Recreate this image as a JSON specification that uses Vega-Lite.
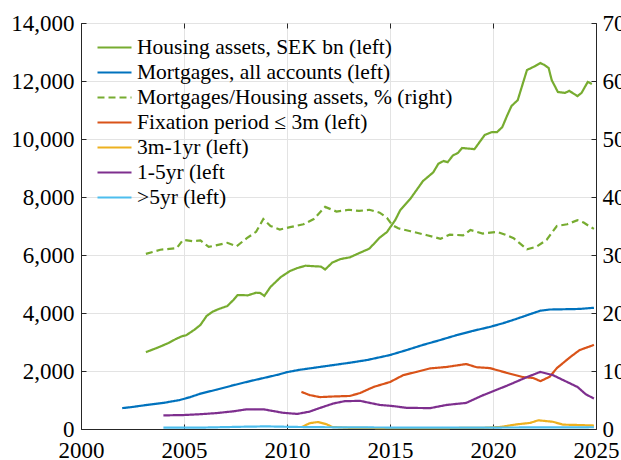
{
  "$schema": "https://vega.github.io/schema/vega-lite/v6.json",
  "width": 515,
  "height": 406,
  "autosize": {"type": "none"},
  "padding": {"left": 81, "top": 23, "right": 25, "bottom": 31},
  "background": "white",
  "config": {
    "view": {"stroke": "#262626", "strokeWidth": 1},
    "font": "Liberation Serif",
    "axis": {
      "labelFont": "Liberation Serif",
      "labelFontSize": 23,
      "labelColor": "#000000",
      "domainColor": "#262626",
      "tickColor": "#262626",
      "tickSize": -5,
      "gridColor": "#e3e3e3",
      "gridWidth": 1,
      "title": null
    },
    "legend": {
      "labelFont": "Liberation Serif",
      "labelFontSize": 21.5,
      "labelColor": "#000000",
      "labelLimit": 500
    }
  },
  "datasets": {
    "d": [
      {"s": "H", "t": 2003.15, "v": 2650}, {"s": "H", "t": 2003.7, "v": 2800}, {"s": "H", "t": 2004.2, "v": 2950},
      {"s": "H", "t": 2004.6, "v": 3100}, {"s": "H", "t": 2004.9, "v": 3200}, {"s": "H", "t": 2005.1, "v": 3230},
      {"s": "H", "t": 2005.5, "v": 3420}, {"s": "H", "t": 2005.8, "v": 3590}, {"s": "H", "t": 2006.1, "v": 3900},
      {"s": "H", "t": 2006.4, "v": 4050}, {"s": "H", "t": 2006.7, "v": 4140}, {"s": "H", "t": 2007.1, "v": 4240},
      {"s": "H", "t": 2007.4, "v": 4450}, {"s": "H", "t": 2007.6, "v": 4620}, {"s": "H", "t": 2008.1, "v": 4610},
      {"s": "H", "t": 2008.5, "v": 4700}, {"s": "H", "t": 2008.7, "v": 4690}, {"s": "H", "t": 2008.9, "v": 4590},
      {"s": "H", "t": 2009.2, "v": 4900}, {"s": "H", "t": 2009.7, "v": 5240}, {"s": "H", "t": 2010.15, "v": 5450},
      {"s": "H", "t": 2010.5, "v": 5550}, {"s": "H", "t": 2010.9, "v": 5630}, {"s": "H", "t": 2011.4, "v": 5610},
      {"s": "H", "t": 2011.65, "v": 5600}, {"s": "H", "t": 2011.85, "v": 5500}, {"s": "H", "t": 2012.2, "v": 5740},
      {"s": "H", "t": 2012.6, "v": 5860}, {"s": "H", "t": 2013.05, "v": 5920}, {"s": "H", "t": 2013.55, "v": 6080},
      {"s": "H", "t": 2014.0, "v": 6220}, {"s": "H", "t": 2014.5, "v": 6600}, {"s": "H", "t": 2014.85, "v": 6790},
      {"s": "H", "t": 2015.25, "v": 7200}, {"s": "H", "t": 2015.5, "v": 7550}, {"s": "H", "t": 2016.0, "v": 7950},
      {"s": "H", "t": 2016.2, "v": 8150}, {"s": "H", "t": 2016.6, "v": 8550}, {"s": "H", "t": 2017.1, "v": 8850},
      {"s": "H", "t": 2017.35, "v": 9150}, {"s": "H", "t": 2017.6, "v": 9240}, {"s": "H", "t": 2017.8, "v": 9200},
      {"s": "H", "t": 2018.05, "v": 9430}, {"s": "H", "t": 2018.3, "v": 9520}, {"s": "H", "t": 2018.5, "v": 9690},
      {"s": "H", "t": 2019.1, "v": 9650}, {"s": "H", "t": 2019.6, "v": 10140}, {"s": "H", "t": 2019.95, "v": 10240},
      {"s": "H", "t": 2020.2, "v": 10240}, {"s": "H", "t": 2020.45, "v": 10410}, {"s": "H", "t": 2020.7, "v": 10830},
      {"s": "H", "t": 2020.9, "v": 11140}, {"s": "H", "t": 2021.2, "v": 11340}, {"s": "H", "t": 2021.65, "v": 12380},
      {"s": "H", "t": 2021.95, "v": 12480}, {"s": "H", "t": 2022.3, "v": 12620}, {"s": "H", "t": 2022.5, "v": 12550},
      {"s": "H", "t": 2022.7, "v": 12450}, {"s": "H", "t": 2022.85, "v": 12030}, {"s": "H", "t": 2023.15, "v": 11620},
      {"s": "H", "t": 2023.5, "v": 11590}, {"s": "H", "t": 2023.7, "v": 11660}, {"s": "H", "t": 2024.1, "v": 11480},
      {"s": "H", "t": 2024.3, "v": 11590}, {"s": "H", "t": 2024.6, "v": 11970}, {"s": "H", "t": 2024.8, "v": 11900},

      {"s": "M", "t": 2002.0, "v": 720}, {"s": "M", "t": 2002.5, "v": 760}, {"s": "M", "t": 2003.2, "v": 830},
      {"s": "M", "t": 2004.0, "v": 900}, {"s": "M", "t": 2004.8, "v": 1000}, {"s": "M", "t": 2005.3, "v": 1100},
      {"s": "M", "t": 2005.8, "v": 1220}, {"s": "M", "t": 2006.6, "v": 1360}, {"s": "M", "t": 2007.4, "v": 1510},
      {"s": "M", "t": 2008.2, "v": 1650}, {"s": "M", "t": 2009.0, "v": 1780}, {"s": "M", "t": 2009.6, "v": 1880},
      {"s": "M", "t": 2010.0, "v": 1960}, {"s": "M", "t": 2010.6, "v": 2040}, {"s": "M", "t": 2011.2, "v": 2100},
      {"s": "M", "t": 2012.2, "v": 2200}, {"s": "M", "t": 2013.1, "v": 2290}, {"s": "M", "t": 2013.9, "v": 2380},
      {"s": "M", "t": 2015.0, "v": 2550}, {"s": "M", "t": 2015.8, "v": 2720}, {"s": "M", "t": 2016.6, "v": 2900},
      {"s": "M", "t": 2017.4, "v": 3060}, {"s": "M", "t": 2018.25, "v": 3240}, {"s": "M", "t": 2019.0, "v": 3380},
      {"s": "M", "t": 2019.85, "v": 3520}, {"s": "M", "t": 2020.5, "v": 3650}, {"s": "M", "t": 2021.15, "v": 3800},
      {"s": "M", "t": 2021.8, "v": 3960}, {"s": "M", "t": 2022.3, "v": 4080}, {"s": "M", "t": 2022.75, "v": 4120},
      {"s": "M", "t": 2023.5, "v": 4130}, {"s": "M", "t": 2024.2, "v": 4140}, {"s": "M", "t": 2024.9, "v": 4180},

      {"s": "R", "t": 2003.15, "v": 30.2}, {"s": "R", "t": 2003.85, "v": 30.9}, {"s": "R", "t": 2004.65, "v": 31.2},
      {"s": "R", "t": 2004.95, "v": 32.6}, {"s": "R", "t": 2005.4, "v": 32.4}, {"s": "R", "t": 2005.8, "v": 32.5},
      {"s": "R", "t": 2006.2, "v": 31.4}, {"s": "R", "t": 2006.6, "v": 31.7}, {"s": "R", "t": 2007.1, "v": 32.1},
      {"s": "R", "t": 2007.55, "v": 31.5}, {"s": "R", "t": 2008.05, "v": 32.9}, {"s": "R", "t": 2008.5, "v": 34.0},
      {"s": "R", "t": 2008.85, "v": 36.2}, {"s": "R", "t": 2009.2, "v": 35.0}, {"s": "R", "t": 2009.65, "v": 34.4},
      {"s": "R", "t": 2010.15, "v": 34.8}, {"s": "R", "t": 2010.8, "v": 35.3}, {"s": "R", "t": 2011.3, "v": 36.2},
      {"s": "R", "t": 2011.85, "v": 38.3}, {"s": "R", "t": 2012.4, "v": 37.5}, {"s": "R", "t": 2013.0, "v": 37.8},
      {"s": "R", "t": 2013.5, "v": 37.6}, {"s": "R", "t": 2014.0, "v": 37.8}, {"s": "R", "t": 2014.5, "v": 37.3},
      {"s": "R", "t": 2014.85, "v": 36.4}, {"s": "R", "t": 2015.1, "v": 35.2}, {"s": "R", "t": 2015.4, "v": 34.6},
      {"s": "R", "t": 2016.0, "v": 34.1}, {"s": "R", "t": 2016.8, "v": 33.4}, {"s": "R", "t": 2017.45, "v": 32.8},
      {"s": "R", "t": 2017.9, "v": 33.5}, {"s": "R", "t": 2018.55, "v": 33.4}, {"s": "R", "t": 2018.9, "v": 34.3},
      {"s": "R", "t": 2019.5, "v": 33.7}, {"s": "R", "t": 2020.2, "v": 34.0}, {"s": "R", "t": 2020.6, "v": 33.5},
      {"s": "R", "t": 2021.0, "v": 32.9}, {"s": "R", "t": 2021.65, "v": 31.0}, {"s": "R", "t": 2022.1, "v": 31.4},
      {"s": "R", "t": 2022.6, "v": 32.6}, {"s": "R", "t": 2023.1, "v": 35.0}, {"s": "R", "t": 2023.6, "v": 35.3},
      {"s": "R", "t": 2024.1, "v": 36.0}, {"s": "R", "t": 2024.4, "v": 35.6}, {"s": "R", "t": 2024.7, "v": 34.9},
      {"s": "R", "t": 2024.9, "v": 34.5},

      {"s": "F", "t": 2010.7, "v": 1280}, {"s": "F", "t": 2011.1, "v": 1170}, {"s": "F", "t": 2011.6, "v": 1100},
      {"s": "F", "t": 2012.2, "v": 1120}, {"s": "F", "t": 2013.05, "v": 1140}, {"s": "F", "t": 2013.55, "v": 1240},
      {"s": "F", "t": 2014.2, "v": 1450}, {"s": "F", "t": 2015.0, "v": 1620}, {"s": "F", "t": 2015.65, "v": 1860},
      {"s": "F", "t": 2016.3, "v": 1970}, {"s": "F", "t": 2016.95, "v": 2090}, {"s": "F", "t": 2017.75, "v": 2140},
      {"s": "F", "t": 2018.7, "v": 2240}, {"s": "F", "t": 2019.2, "v": 2130}, {"s": "F", "t": 2019.85, "v": 2100},
      {"s": "F", "t": 2020.7, "v": 1930}, {"s": "F", "t": 2021.45, "v": 1790}, {"s": "F", "t": 2021.95, "v": 1760},
      {"s": "F", "t": 2022.3, "v": 1650}, {"s": "F", "t": 2022.75, "v": 1800}, {"s": "F", "t": 2023.1, "v": 2100},
      {"s": "F", "t": 2023.75, "v": 2480}, {"s": "F", "t": 2024.2, "v": 2720}, {"s": "F", "t": 2024.9, "v": 2900},

      {"s": "Y", "t": 2010.7, "v": 60}, {"s": "Y", "t": 2011.1, "v": 200}, {"s": "Y", "t": 2011.5, "v": 240},
      {"s": "Y", "t": 2011.9, "v": 170}, {"s": "Y", "t": 2012.2, "v": 70}, {"s": "Y", "t": 2013.0, "v": 40},
      {"s": "Y", "t": 2015.0, "v": 30}, {"s": "Y", "t": 2017.0, "v": 30}, {"s": "Y", "t": 2019.5, "v": 40},
      {"s": "Y", "t": 2020.35, "v": 70}, {"s": "Y", "t": 2021.15, "v": 160}, {"s": "Y", "t": 2021.8, "v": 210},
      {"s": "Y", "t": 2022.2, "v": 300}, {"s": "Y", "t": 2022.9, "v": 250}, {"s": "Y", "t": 2023.4, "v": 150},
      {"s": "Y", "t": 2024.0, "v": 140}, {"s": "Y", "t": 2024.9, "v": 120},

      {"s": "P", "t": 2004.0, "v": 470}, {"s": "P", "t": 2004.95, "v": 480}, {"s": "P", "t": 2005.8, "v": 510},
      {"s": "P", "t": 2006.6, "v": 550}, {"s": "P", "t": 2007.4, "v": 610}, {"s": "P", "t": 2008.05, "v": 680},
      {"s": "P", "t": 2008.85, "v": 680}, {"s": "P", "t": 2009.8, "v": 560}, {"s": "P", "t": 2010.5, "v": 520},
      {"s": "P", "t": 2011.1, "v": 600}, {"s": "P", "t": 2011.45, "v": 690}, {"s": "P", "t": 2012.25, "v": 880},
      {"s": "P", "t": 2012.8, "v": 960}, {"s": "P", "t": 2013.55, "v": 970}, {"s": "P", "t": 2014.5, "v": 830},
      {"s": "P", "t": 2015.15, "v": 790}, {"s": "P", "t": 2015.8, "v": 730}, {"s": "P", "t": 2016.95, "v": 720},
      {"s": "P", "t": 2017.75, "v": 830}, {"s": "P", "t": 2018.7, "v": 900}, {"s": "P", "t": 2019.5, "v": 1160},
      {"s": "P", "t": 2020.7, "v": 1500}, {"s": "P", "t": 2021.65, "v": 1790}, {"s": "P", "t": 2022.3, "v": 1970},
      {"s": "P", "t": 2022.9, "v": 1860}, {"s": "P", "t": 2023.6, "v": 1620}, {"s": "P", "t": 2024.1, "v": 1450},
      {"s": "P", "t": 2024.5, "v": 1200}, {"s": "P", "t": 2024.9, "v": 1050},

      {"s": "B", "t": 2004.0, "v": 50}, {"s": "B", "t": 2006.0, "v": 50}, {"s": "B", "t": 2008.0, "v": 80},
      {"s": "B", "t": 2009.0, "v": 90}, {"s": "B", "t": 2010.5, "v": 70}, {"s": "B", "t": 2012.0, "v": 60},
      {"s": "B", "t": 2015.0, "v": 50}, {"s": "B", "t": 2020.0, "v": 50}, {"s": "B", "t": 2024.9, "v": 60}
    ],
    "names": [
      {"s": "H", "name": "Housing assets, SEK bn (left)"},
      {"s": "M", "name": "Mortgages, all accounts (left)"},
      {"s": "R", "name": "Mortgages/Housing assets, % (right)"},
      {"s": "F", "name": "Fixation period ≤ 3m (left)"},
      {"s": "Y", "name": "3m-1yr (left)"},
      {"s": "P", "name": "1-5yr (left"},
      {"s": "B", "name": " >5yr (left)"}
    ]
  },
  "data": {"name": "d"},
  "transform": [
    {"lookup": "s", "from": {"data": {"name": "names"}, "key": "s", "fields": ["name"]}}
  ],
  "encoding": {
    "color": {
      "field": "name", "type": "nominal",
      "scale": {
        "domain": ["Housing assets, SEK bn (left)", "Mortgages, all accounts (left)", "Mortgages/Housing assets, % (right)", "Fixation period ≤ 3m (left)", "3m-1yr (left)", "1-5yr (left", " >5yr (left)"],
        "range": ["#77AC30", "#0072BD", "#77AC30", "#D95319", "#EDB120", "#7E2F8E", "#4DBEEE"]
      },
      "legend": {
        "title": null,
        "orient": "none",
        "legendX": 15,
        "legendY": 13,
        "symbolType": "stroke",
        "symbolSize": 1156,
        "symbolStrokeWidth": 2.2,
        "clipHeight": 23,
        "rowPadding": 2,
        "labelOffset": 4,
        "padding": 0
      }
    },
    "strokeDash": {
      "field": "name", "type": "nominal",
      "scale": {
        "domain": ["Housing assets, SEK bn (left)", "Mortgages, all accounts (left)", "Mortgages/Housing assets, % (right)", "Fixation period ≤ 3m (left)", "3m-1yr (left)", "1-5yr (left", " >5yr (left)"],
        "range": [[1, 0], [1, 0], [7, 4], [1, 0], [1, 0], [1, 0], [1, 0]]
      },
      "legend": null
    }
  },
  "layer": [
    {
      "transform": [{"filter": "datum.s !== 'R'"}],
      "mark": {"type": "line", "strokeWidth": 2.2},
      "encoding": {
        "x": {
          "field": "t", "type": "quantitative",
          "scale": {"domain": [2000, 2025], "nice": false, "zero": false},
          "axis": {"orient": "bottom", "values": [2000, 2005, 2010, 2015, 2020, 2025], "format": "d", "grid": true, "labelFlush": false, "labelPadding": 15}
        },
        "y": {
          "field": "v", "type": "quantitative",
          "scale": {"domain": [0, 14000], "nice": false},
          "axis": {"orient": "left", "values": [0, 2000, 4000, 6000, 8000, 10000, 12000, 14000], "format": ",d", "grid": true, "labelPadding": 12, "labelFlush": false}
        }
      }
    },
    {
      "transform": [{"filter": "datum.s === 'R'"}],
      "mark": {"type": "line", "strokeWidth": 2.2},
      "encoding": {
        "x": {
          "field": "t", "type": "quantitative",
          "scale": {"domain": [2000, 2025], "nice": false, "zero": false},
          "axis": {"orient": "top", "values": [2000, 2005, 2010, 2015, 2020, 2025], "labels": false, "grid": false, "domain": false}
        },
        "y": {
          "field": "v", "type": "quantitative",
          "scale": {"domain": [0, 70], "nice": false},
          "axis": {"orient": "right", "values": [0, 10, 20, 30, 40, 50, 60, 70], "format": "d", "grid": false, "labelPadding": 11, "labelFlush": false}
        }
      }
    }
  ],
  "resolve": {"scale": {"y": "independent"}, "axis": {"x": "independent"}}
}
